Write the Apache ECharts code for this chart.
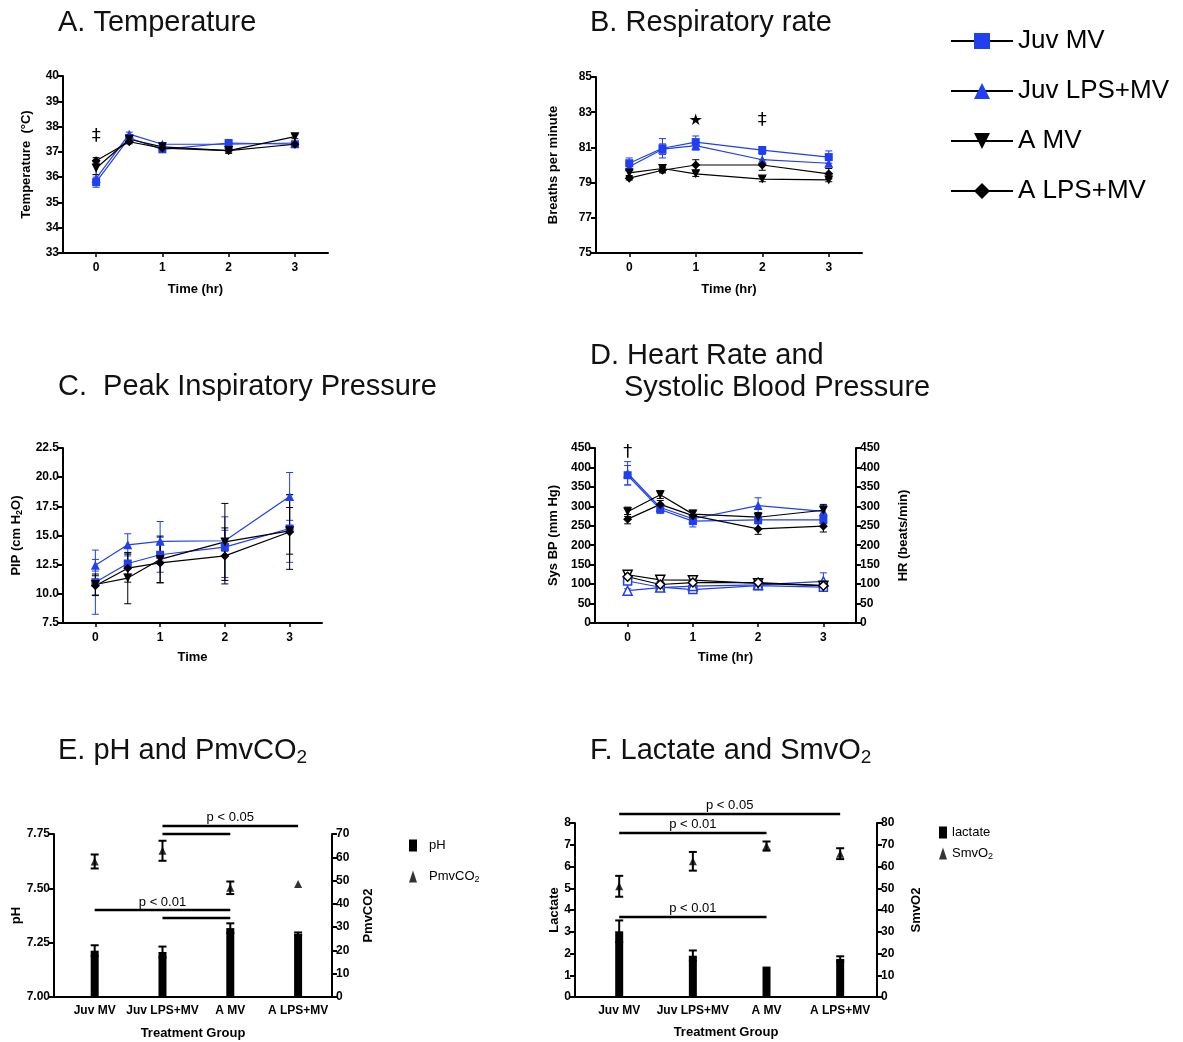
<!DOCTYPE html>
<html><head><meta charset="utf-8">
<script src="https://cdn.jsdelivr.net/npm/echarts@6/dist/echarts.min.js"></script>
<style>html,body{margin:0;padding:0;background:#fff}#c{width:1183px;height:1042px}</style>
</head><body><div id="c"></div>
<script>
// ---------- DATA ----------
const times = [0, 0.5, 1, 2, 3];
const tickTimes = [0, 1, 2, 3];
const groupNames = ['Juv MV', 'Juv LPS+MV', 'A MV', 'A LPS+MV'];
const groupTicks = [0, 1, 2, 3];

// A. Temperature (°C)
const tempJuvMV  = [35.8, 37.55, 37.1, 37.35, 37.3];
const tempJuvLPS = [35.95, 37.7, 37.3, 37.3, 37.35];
const tempAMV    = [36.35, 37.5, 37.2, 37.05, 37.6];
const tempALPS   = [36.65, 37.4, 37.15, 37.05, 37.3];
const tempSemJuvMV  = [0.2, 0.1, 0.08, 0.06, 0.06];
const tempSemJuvLPS = [0.15, 0.08, 0.06, 0.06, 0.06];
const tempSemAMV    = [0.25, 0.1, 0.08, 0.1, 0.08];
const tempSemALPS   = [0.12, 0.08, 0.08, 0.1, 0.08];

// B. Respiratory rate (breaths/min)
const rrJuvMV  = [80.1, 80.95, 81.3, 80.85, 80.45];
const rrJuvLPS = [79.9, 80.9, 81.1, 80.3, 80.1];
const rrAMV    = [79.55, 79.8, 79.5, 79.2, 79.15];
const rrALPS   = [79.25, 79.7, 80.0, 80.0, 79.5];
const rrSemJuvMV  = [0.3, 0.55, 0.35, 0.2, 0.35];
const rrSemJuvLPS = [0.2, 0.3, 0.25, 0.3, 0.2];
const rrSemAMV    = [0.15, 0.2, 0.15, 0.15, 0.1];
const rrSemALPS   = [0.1, 0.15, 0.3, 0.3, 0.3];

// C. Peak inspiratory pressure (cm H2O)
const pipJuvMV  = [11.0, 12.6, 13.35, 14.0, 15.6];
const pipJuvLPS = [12.45, 14.2, 14.5, 14.55, 18.35];
const pipAMV    = [10.8, 11.35, 12.95, 14.45, 15.4];
const pipALPS   = [10.7, 12.2, 12.65, 13.25, 15.3];
const pipSemJuvMV  = [2.75, 0.9, 1.5, 2.6, 2.9];
const pipSemJuvLPS = [0.5, 0.95, 1.7, 0.9, 2.05];
const pipSemAMV    = [0.9, 2.2, 2.0, 3.3, 2.0];
const pipSemALPS   = [0.85, 1.2, 1.7, 2.4, 3.2];

// D. Heart rate (beats/min) and systolic BP (mm Hg)
const hrJuvMV  = [380, 292, 262, 265, 265];
const hrJuvLPS = [385, 297, 268, 302, 287];
const hrAMV    = [286, 330, 280, 272, 290];
const hrALPS   = [267, 305, 276, 242, 249];
const hrSemJuvMV  = [25, 10, 15, 10, 10];
const hrSemJuvLPS = [30, 8, 10, 20, 15];
const hrSemAMV    = [12, 10, 10, 12, 15];
const hrSemALPS   = [12, 10, 12, 14, 15];
const bpJuvMV  = [108, 92, 86, 96, 92];
const bpJuvLPS = [83, 91, 95, 98, 107];
const bpAMV    = [124, 111, 110, 102, 96];
const bpALPS   = [119, 99, 104, 104, 96];
const bpSemJuvMV  = [8, 5, 5, 5, 5];
const bpSemJuvLPS = [5, 5, 5, 5, 22];
const bpSemAMV    = [5, 4, 4, 4, 4];
const bpSemALPS   = [5, 4, 4, 4, 4];

// E. pH and PmvCO2
const phMean = [7.213, 7.207, 7.317, 7.291];
const phSem  = [0.025, 0.025, 0.022, 0.006];
const pmvco2Mean = [58.2, 62.8, 46.9, 48.5];
const pmvco2Sem  = [3.0, 4.3, 2.7, 0];

// F. Lactate and SmvO2
const lactateMean = [3.02, 1.9, 1.4, 1.75];
const lactateSem  = [0.5, 0.24, 0, 0.12];
const smvo2Mean = [50.9, 62.4, 69.4, 65.9];
const smvo2Sem  = [4.8, 4.3, 2.1, 2.5];

// Annotations (data coordinates)
const sigBars = [
  {xi: 4, yi: 5, x1: 1, x2: 3, y: 7.787},
  {xi: 4, yi: 5, x1: 1, x2: 2, y: 7.75},
  {xi: 4, yi: 5, x1: 0, x2: 2, y: 7.40},
  {xi: 4, yi: 5, x1: 1, x2: 2, y: 7.363},
  {xi: 5, yi: 7, x1: 0, x2: 3, y: 8.41},
  {xi: 5, yi: 7, x1: 0, x2: 2, y: 7.54},
  {xi: 5, yi: 7, x1: 0, x2: 2, y: 3.68}
];
const sigTexts = [
  {xi: 4, yi: 5, x: 2, y: 7.828, text: 'p < 0.05'},
  {xi: 4, yi: 5, x: 1, y: 7.437, text: 'p < 0.01'},
  {xi: 5, yi: 7, x: 1.5, y: 8.83, text: 'p < 0.05'},
  {xi: 5, yi: 7, x: 1, y: 7.92, text: 'p < 0.01'},
  {xi: 5, yi: 7, x: 1, y: 4.09, text: 'p < 0.01'}
];
const symbolMarks = [
  {xi: 0, yi: 0, x: 0, y: 37.6, text: '‡', size: 18},
  {xi: 1, yi: 1, x: 1, y: 82.5, text: '★', size: 16},
  {xi: 1, yi: 1, x: 2, y: 82.55, text: '‡', size: 18},
  {xi: 3, yi: 3, x: 0, y: 440, text: '†', size: 18}
];

// ---------- STYLE ----------
const FF = "'Liberation Sans', Arial, Helvetica, sans-serif";
const BLUE = '#1f3ff0';
const DOWN = 'path://M0,0L10,0L5,9Z';
const groupStyle = {
  'Juv MV':     {color: BLUE,  symbol: 'rect',     size: 8},
  'Juv LPS+MV': {color: BLUE,  symbol: 'triangle', size: 9},
  'A MV':       {color: '#000', symbol: DOWN,      size: 9},
  'A LPS+MV':   {color: '#000', symbol: 'diamond', size: 9}
};

function errSeries(xi, yi, xs, means, sems, color, capW, lw) {
  const data = [];
  xs.forEach((x, i) => { if (sems[i] > 0) data.push([x, means[i] - sems[i], means[i] + sems[i]]); });
  return {
    type: 'custom', xAxisIndex: xi, yAxisIndex: yi, silent: true, z: 2,
    encode: {x: 0, y: [1, 2]},
    data,
    renderItem(params, api) {
      const lo = api.coord([api.value(0), api.value(1)]);
      const hi = api.coord([api.value(0), api.value(2)]);
      const w = capW / 2;
      const st = {stroke: color, lineWidth: lw};
      return {type: 'group', children: [
        {type: 'line', shape: {x1: hi[0], y1: hi[1], x2: lo[0], y2: lo[1]}, style: st},
        {type: 'line', shape: {x1: hi[0] - w, y1: hi[1], x2: hi[0] + w, y2: hi[1]}, style: st},
        {type: 'line', shape: {x1: lo[0] - w, y1: lo[1], x2: lo[0] + w, y2: lo[1]}, style: st}
      ]};
    }
  };
}

const series = [];
// legend-only series (black line with coloured marker)
groupNames.forEach(g => {
  const st = groupStyle[g];
  series.push({type: 'line', name: g, xAxisIndex: 0, yAxisIndex: 0, data: [],
    symbol: st.symbol, symbolSize: st.size, lineStyle: {color: '#000', width: 2},
    itemStyle: {color: st.color}});
});

function addPanel(xi, yi, valsList, semList, hollow) {
  groupNames.forEach((g, k) => {
    const st = groupStyle[g];
    series.push(errSeries(xi, yi, times, valsList[k], semList[k], st.color, 7, 1));
    series.push({
      type: 'line', name: g, xAxisIndex: xi, yAxisIndex: yi,
      data: times.map((t, i) => [t, valsList[k][i]]),
      symbol: st.symbol, symbolSize: st.size, showAllSymbol: true, z: 3,
      lineStyle: {color: st.color, width: 1.2},
      itemStyle: hollow ? {color: '#fff', borderColor: st.color, borderWidth: 1.5} : {color: st.color}
    });
  });
}
addPanel(0, 0, [tempJuvMV, tempJuvLPS, tempAMV, tempALPS], [tempSemJuvMV, tempSemJuvLPS, tempSemAMV, tempSemALPS], false);
addPanel(1, 1, [rrJuvMV, rrJuvLPS, rrAMV, rrALPS], [rrSemJuvMV, rrSemJuvLPS, rrSemAMV, rrSemALPS], false);
addPanel(2, 2, [pipJuvMV, pipJuvLPS, pipAMV, pipALPS], [pipSemJuvMV, pipSemJuvLPS, pipSemAMV, pipSemALPS], false);
addPanel(3, 4, [hrJuvMV, hrJuvLPS, hrAMV, hrALPS], [hrSemJuvMV, hrSemJuvLPS, hrSemAMV, hrSemALPS], false);
addPanel(3, 3, [bpJuvMV, bpJuvLPS, bpAMV, bpALPS], [bpSemJuvMV, bpSemJuvLPS, bpSemAMV, bpSemALPS], true);

// E
series.push({type: 'bar', name: 'pH', xAxisIndex: 4, yAxisIndex: 5, barWidth: 8,
  data: groupTicks.map((x, i) => [x, phMean[i]]), itemStyle: {color: '#000'}, z: 2});
series.push(errSeries(4, 5, groupTicks, phMean, phSem, '#000', 8, 2));
series.push(errSeries(4, 6, groupTicks, pmvco2Mean, pmvco2Sem, '#000', 8, 2));
series.push({type: 'scatter', name: 'PmvCO2', xAxisIndex: 4, yAxisIndex: 6, symbol: 'triangle', symbolSize: 8,
  data: groupTicks.map((x, i) => [x, pmvco2Mean[i]]), itemStyle: {color: '#000'}, z: 3});
// F
series.push({type: 'bar', name: 'lactate', xAxisIndex: 5, yAxisIndex: 7, barWidth: 8,
  data: groupTicks.map((x, i) => [x, lactateMean[i]]), itemStyle: {color: '#000'}, z: 2});
series.push(errSeries(5, 7, groupTicks, lactateMean, lactateSem, '#000', 8, 2));
series.push(errSeries(5, 8, groupTicks, smvo2Mean, smvo2Sem, '#000', 8, 2));
series.push({type: 'scatter', name: 'SmvO2', xAxisIndex: 5, yAxisIndex: 8, symbol: 'triangle', symbolSize: 8,
  data: groupTicks.map((x, i) => [x, smvo2Mean[i]]), itemStyle: {color: '#000'}, z: 3});

// ---------- AXES ----------
const nameStyle = {color: '#000', fontWeight: 'bold', fontSize: 13, fontFamily: FF};
const lineSt = {color: '#000', width: 2};
function xTime(gi, name, gap) {
  return {type: 'value', gridIndex: gi, min: -0.5, max: 3.5, splitLine: {show: false},
    axisLine: {onZero: false, lineStyle: lineSt},
    axisTick: {customValues: tickTimes, length: 4, lineStyle: {width: 1.5, color: '#000'}},
    axisLabel: {customValues: tickTimes, color: '#000', fontWeight: 'bold', fontSize: 12, fontFamily: FF, margin: 9},
    name, nameLocation: 'middle', nameGap: gap, nameTextStyle: nameStyle};
}
function xGroup(gi, gap) {
  return {type: 'value', gridIndex: gi, min: -0.6, max: 3.5, splitLine: {show: false},
    axisLine: {onZero: false, lineStyle: lineSt},
    axisTick: {show: false},
    axisLabel: {customValues: groupTicks, color: '#000', fontWeight: 'bold', fontSize: 12, fontFamily: FF, margin: 8,
      formatter: v => groupNames[Math.round(v)]},
    name: 'Treatment Group', nameLocation: 'middle', nameGap: gap, nameTextStyle: nameStyle};
}
function yVal(gi, min, max, interval, name, gap, pos, digits, rich) {
  const ns = Object.assign({}, nameStyle);
  if (rich) ns.rich = rich;
  return {type: 'value', gridIndex: gi, min, max, interval, position: pos, splitLine: {show: false},
    axisLine: {show: true, onZero: false, lineStyle: lineSt},
    axisTick: {show: true, length: 5, lineStyle: {width: 2, color: '#000'}},
    axisLabel: {color: '#000', fontWeight: 'bold', fontSize: 12, fontFamily: FF, margin: 4,
      formatter: v => v.toFixed(digits)},
    name, nameLocation: 'middle', nameGap: gap, nameTextStyle: ns};
}

const subRich = {
  a: {fontWeight: 'bold', fontSize: 13, fontFamily: FF, color: '#000'},
  s: {fontWeight: 'bold', fontSize: 9, fontFamily: FF, color: '#000', padding: [6, 0, 0, 0]}
};

const titleStyle = {fontSize: 29, fontWeight: 'normal', color: '#111', fontFamily: FF,
  rich: {t: {fontSize: 29, fontFamily: FF, color: '#111'}, s: {fontSize: 19, fontFamily: FF, color: '#111', padding: [14, 0, 0, 0]}}};

const option = {
  animation: false,
  backgroundColor: '#fff',
  title: [
    {text: 'A. Temperature', left: 58, top: 8},
    {text: 'B. Respiratory rate', left: 590, top: 8},
    {text: 'C.  Peak Inspiratory Pressure', left: 58, top: 372},
    {text: 'D. Heart Rate and', left: 590, top: 341},
    {text: 'Systolic Blood Pressure', left: 624, top: 373},
    {text: '{t|E. pH and PmvCO}{s|2}', left: 58, top: 734},
    {text: '{t|F. Lactate and SmvO}{s|2}', left: 590, top: 734}
  ].map(t => Object.assign({padding: 0, textStyle: titleStyle}, t)),
  legend: [
    {data: groupNames, orient: 'vertical', left: 950, top: 28, padding: 0, itemWidth: 62, itemHeight: 20, itemGap: 24,
      selectedMode: false, textStyle: {fontSize: 26, color: '#000', fontFamily: FF, lineHeight: 26}},
    {data: [{name: 'pH', icon: 'rect'}, {name: 'PmvCO2', icon: 'triangle'}], orient: 'vertical', left: 409, top: 839, padding: 0,
      itemWidth: 8, itemHeight: 12, itemGap: 18, selectedMode: false,
      formatter: n => n === 'PmvCO2' ? '{a|PmvCO}{s|2}' : '{a|' + n + '}',
      textStyle: {rich: {a: {fontSize: 13, fontFamily: FF, color: '#000', padding: [0, 0, 0, 7]}, s: {fontSize: 9, fontFamily: FF, color: '#000', padding: [6, 0, 0, 0]}}}},
    {data: [{name: 'lactate', icon: 'rect'}, {name: 'SmvO2', icon: 'triangle'}], orient: 'vertical', left: 939, top: 826, padding: 0,
      itemWidth: 8, itemHeight: 12, itemGap: 8, selectedMode: false,
      formatter: n => n === 'SmvO2' ? '{a|SmvO}{s|2}' : '{a|' + n + '}',
      textStyle: {rich: {a: {fontSize: 13, fontFamily: FF, color: '#000'}, s: {fontSize: 9, fontFamily: FF, color: '#000', padding: [6, 0, 0, 0]}}}}
  ],
  grid: [
    {left: 63, top: 76, width: 265, height: 177},
    {left: 596, top: 77, width: 266, height: 176},
    {left: 63, top: 448, width: 259, height: 175},
    {left: 595, top: 448, width: 261, height: 175},
    {left: 54, top: 834, width: 278, height: 163},
    {left: 575, top: 823, width: 302, height: 174}
  ],
  xAxis: [
    xTime(0, 'Time (hr)', 30),
    xTime(1, 'Time (hr)', 30),
    xTime(2, 'Time', 28),
    xTime(3, 'Time (hr)', 28),
    xGroup(4, 30),
    xGroup(5, 29)
  ],
  yAxis: [
    yVal(0, 33, 40, 1, 'Temperature  (°C)', 30, 'left', 0),
    yVal(1, 75, 85, 2, 'Breaths per minute', 36, 'left', 0),
    yVal(2, 7.5, 22.5, 2.5, '{a|PIP (cm H}{s|2}{a|O)}', 39, 'left', 1, subRich),
    yVal(3, 0, 450, 50, 'Sys BP (mm Hg)', 35, 'left', 0),
    yVal(3, 0, 450, 50, 'HR (beats/min)', 41, 'right', 0),
    yVal(4, 7.0, 7.75, 0.25, 'pH', 30, 'left', 2),
    yVal(4, 0, 70, 10, 'PmvCO2', 30, 'right', 0),
    yVal(5, 0, 8, 1, 'Lactate', 14, 'left', 0),
    yVal(5, 0, 80, 10, 'SmvO2', 33, 'right', 0)
  ],
  series
};

const chart = echarts.init(document.getElementById('c'), null, {renderer: 'canvas'});
chart.setOption(option);

const graphics = [];
function px(o, x, y) { return chart.convertToPixel({xAxisIndex: o.xi, yAxisIndex: o.yi}, [x, y]); }
sigBars.forEach(b => {
  const p1 = px(b, b.x1, b.y), p2 = px(b, b.x2, b.y);
  graphics.push({type: 'line', shape: {x1: p1[0], y1: p1[1], x2: p2[0], y2: p2[1]}, style: {stroke: '#000', lineWidth: 2.5}});
});
sigTexts.forEach(t => {
  const p = px(t, t.x, t.y);
  graphics.push({type: 'text', x: p[0], y: p[1], style: {text: t.text, fontSize: 13, fontFamily: FF, fill: '#000',
    align: 'center', verticalAlign: 'middle', textAlign: 'center', textVerticalAlign: 'middle'}});
});
symbolMarks.forEach(t => {
  const p = px(t, t.x, t.y);
  graphics.push({type: 'text', x: p[0], y: p[1], style: {text: t.text, fontSize: t.size, fontFamily: "'DejaVu Sans', " + FF, fill: '#000',
    align: 'center', verticalAlign: 'middle', textAlign: 'center', textVerticalAlign: 'middle'}});
});
chart.setOption({graphic: graphics});
</script></body></html>
